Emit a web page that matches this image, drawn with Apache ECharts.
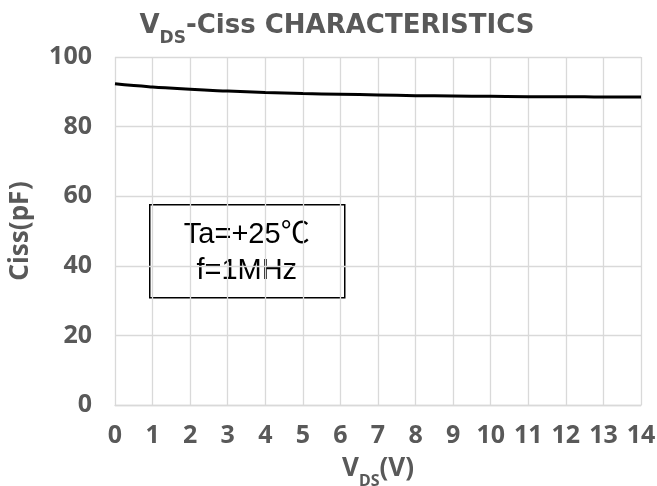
<!DOCTYPE html>
<html>
<head>
<meta charset="utf-8">
<script src="https://cdn.jsdelivr.net/npm/echarts@6/dist/echarts.min.js"></script>
<style>
  html, body { margin: 0; padding: 0; background: #fff; }
  #chart { width: 657px; height: 486px; }
</style>
</head>
<body>
<div id="chart"></div>
<script>
// Input capacitance vs drain-source voltage
const vdsValues = [0, 0.5, 1, 2, 3, 4, 5, 6, 7, 8, 9, 10, 11, 12, 13, 14];
const cissValues = [92.3, 91.8, 91.4, 90.7, 90.2, 89.8, 89.5, 89.3, 89.1, 88.9, 88.8, 88.7, 88.6, 88.6, 88.5, 88.5];
const conditionLines = ['Ta=+25℃', 'f=1MHz'];

const FONT = '"Noto Sans", "Open Sans", sans-serif';
const WIDE = '"DejaVu Sans", sans-serif';
const GRAY = '#595959';
const GRID = '#d9d9d9';

const chart = echarts.init(document.getElementById('chart'), null, { renderer: 'canvas' });

chart.setOption({
  backgroundColor: '#ffffff',
  animation: false,
  title: {
    text: '{b|V}{s|DS}{b|-Ciss CHARACTERISTICS}',
    left: 332,
    top: -2,
    textAlign: 'center',
    textStyle: {
      rich: {
        b: { fontFamily: WIDE, fontWeight: 'bold', fontSize: 26, color: GRAY, verticalAlign: 'bottom', lineHeight: 36 },
        s: { fontFamily: WIDE, fontWeight: 'bold', fontSize: 17, color: GRAY, verticalAlign: 'bottom', lineHeight: 36, padding: [0, 0, -8, 0] }
      }
    }
  },
  grid: { left: 115, right: 16, top: 57, bottom: 81, containLabel: false, outerBoundsMode: 'none' },
  xAxis: {
    type: 'value',
    min: 0, max: 14, interval: 1,
    name: '{b|V}{s|DS}{b|(V)}',
    nameLocation: 'middle',
    nameGap: 47,
    nameTextStyle: {
      rich: {
        b: { fontFamily: FONT, fontWeight: 'bold', fontSize: 26, color: GRAY, verticalAlign: 'bottom', lineHeight: 30 },
        s: { fontFamily: FONT, fontWeight: 'bold', fontSize: 16, color: GRAY, verticalAlign: 'bottom', lineHeight: 30, padding: [0, 0, -7, 0] }
      }
    },
    axisLine: { show: true, lineStyle: { color: GRID, width: 1.3 } },
    axisTick: { show: false },
    splitLine: { show: true, lineStyle: { color: GRID, width: 1.3 } },
    axisLabel: { margin: 18, fontFamily: FONT, fontWeight: 'bold', fontSize: 25, color: GRAY }
  },
  yAxis: {
    type: 'value',
    min: 0, max: 100, interval: 20,
    name: 'Ciss(pF)',
    nameLocation: 'middle',
    nameGap: 81,
    nameRotate: 90,
    nameTextStyle: { fontFamily: FONT, fontWeight: 'bold', fontSize: 26, color: GRAY },
    axisLine: { show: false },
    axisTick: { show: false },
    splitLine: { show: true, lineStyle: { color: GRID, width: 1.3 } },
    axisLabel: { margin: 23, fontFamily: FONT, fontWeight: 'bold', fontSize: 25, color: GRAY }
  },
  series: [{
    type: 'line',
    data: vdsValues.map((v, i) => [v, cissValues[i]]),
    smooth: true,
    showSymbol: false,
    lineStyle: { color: '#000000', width: 3 }
  }],
  graphic: [{
    type: 'group',
    left: 149,
    top: 204,
    children: [
      {
        type: 'rect',
        shape: { x: 0, y: 0, width: 195, height: 93 },
        style: { fill: '#ffffff', stroke: '#000000', lineWidth: 1.5 }
      },
      {
        type: 'text',
        x: 97, y: 48,
        style: {
          text: conditionLines.join('\n'),
          align: 'center',
          verticalAlign: 'middle',
          fontFamily: '"Liberation Sans", Arial, "Noto Sans CJK JP", sans-serif',
          fontSize: 29,
          lineHeight: 36,
          fill: '#000000'
        }
      }
    ]
  }]
});
</script>
</body>
</html>
